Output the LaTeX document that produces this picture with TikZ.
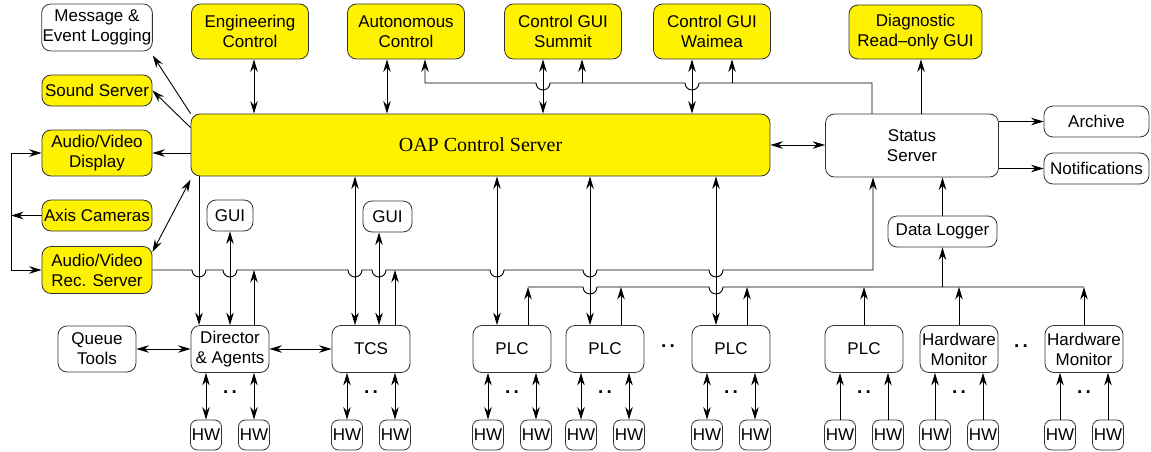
\documentclass[tikz,border=0pt]{standalone}
\usepackage{fontspec}
\setmainfont{Liberation Sans}
\newfontfamily\oapfont{Liberation Serif}
\usepackage{xcolor}
\usepackage{tikz}
\usetikzlibrary{arrows.meta}
\tikzset{
box/.style={
  draw=black!80,
  line width=0.8pt,
  rounded corners=9pt,
  align=center,
  inner sep=1pt,
  font=\fontsize{17}{20}\selectfont
},
ybox/.style={box,fill=yellow},
wh/.style 2 args={minimum width=#1pt,minimum height=#2pt},
hw/.style={box,rounded corners=7pt,wh={31}{30}},
dev/.style={box,wh={78}{47}},
dots/.style={inner sep=0pt,font=\bfseries\fontsize{19}{20}\selectfont},
link/.style={line width=0.9pt},
>={Stealth[length=12.5pt,width=7.5pt]}
}

\begin{document}
\begin{tikzpicture}[x=1pt,y=-1pt]
\useasboundingbox (0,0) rectangle (1151,452);
% the boxes
\node[box,wh={110}{47}] (log) at (97,27.5) {Message \&\\Event Logging};
\node[ybox,wh={110}{31}] (snd) at (97,90.5) {Sound Server};
\node[ybox,wh={110}{46}] (avd) at (97,153) {Audio/Video\\Display};
\node[ybox,wh={110}{31}] (axis) at (97,215.5) {Axis Cameras};
\node[ybox,wh={110}{47}] (rec) at (97,270) {Audio/Video\\Rec. Server};
\node[ybox,wh={117}{55}] (eng) at (250,31.5) {Engineering\\Control};
\node[ybox,wh={117}{55}] (aut) at (406,31.5) {Autonomous\\Control};
\node[ybox,wh={117}{55}] (sum) at (563,31.5) {Control GUI\\Summit};
\node[ybox,wh={117}{55}] (wai) at (712,31.5) {Control GUI\\Waimea};
\node[ybox,wh={133}{54}] (diag) at (915.5,32) {Diagnostic\\Read--only GUI};
\node[ybox,wh={579}{62},font=\oapfont\fontsize{20}{24}\selectfont] (oap) at (480.5,145) {OAP Control Server};
\node[box,wh={173}{63}] (st) at (912,145.5) {Status\\Server};
\node[box,wh={105}{31}] (arch) at (1096.5,121.5) {Archive};
\node[box,wh={105}{31}] (notif) at (1096.5,168.5) {Notifications};
\node[box,wh={46}{31}] (guia) at (230,215.5) {GUI};
\node[box,wh={49}{31}] (guib) at (387.5,216.5) {GUI};
\node[box,wh={109}{31}] (dlog) at (942.5,231.5) {Data Logger};
\node[box,wh={78}{46}] (queue) at (97,349) {Queue\\Tools};
\node[dev] (dir) at (230,349) {Director\\\& Agents};
\node[dev] (tcs) at (371,349) {TCS};
\node[dev] (plca) at (512,349) {PLC};
\node[dev] (plcb) at (605,349) {PLC};
\node[dev] (plcc) at (731,349) {PLC};
\node[dev] (plcd) at (864,349) {PLC};
\node[dev] (hwma) at (959,349) {Hardware\\Monitor};
\node[dev] (hwmb) at (1084,349) {Hardware\\Monitor};
\node[dots] (dotsa) at (668,346) {.\,.};
\node[dots] (dotsb) at (1021,346) {.\,.};
\coordinate (top) at (0,83);
\coordinate (bus1) at (0,270);
\coordinate (bus2) at (0,287);
\coordinate (lbus) at (11,0);
\coordinate (hwrow) at (0,435);
\coordinate (dotrow) at (0,392);

% the hardware under each device
\foreach \p in {dir,tcs,plca,plcb,plcc,plcd,hwma,hwmb}
{
  \node[hw] (\p-l) at ([xshift=-24pt]\p.south |- hwrow) {HW};
  \node[hw] (\p-r) at ([xshift=24pt]\p.south |- hwrow) {HW};
  \node[dots] (\p-dots) at (\p.south |- dotrow) {.\,.};
}
\foreach \p in {dir,tcs,plca,plcb,plcc}
{
  \draw[link,<->] (\p-l.north) -- (\p-l.north |- \p.south);
  \draw[link,<->] (\p-r.north) -- (\p-r.north |- \p.south);
}
\foreach \p in {plcd,hwma,hwmb}
{
  \draw[link,->] (\p-l.north) -- (\p-l.north |- \p.south);
  \draw[link,->] (\p-r.north) -- (\p-r.north |- \p.south);
}

% the arrows on the left
\draw[link,->] (oap.north west) -- ([yshift=-4pt]log.south east);
\draw[link,->] ([yshift=-14pt]oap.north west) -- (snd.east);
\draw[link,->] (avd.east -| oap.west) -- (avd.east);
\draw[link,<->] ([yshift=-6pt]rec.north east) -- ([yshift=-3pt]oap.south west);
\draw[link,->] (axis.west) -- (axis.west -| lbus);
\draw[link,->] (avd.west -| lbus) -- (avd.west);
\draw[link,->] (avd.west -| lbus) |- (rec.west);

% the arrows on top
\draw[link,<->] ([xshift=4pt]eng.south) -- ([xshift=4pt]eng.south |- oap.north);
\draw[link,<->] ([xshift=-19pt]aut.south) -- ([xshift=-19pt]aut.south |- oap.north);
\draw[link,<->] ([xshift=-20pt]sum.south) -- ([xshift=-20pt]sum.south |- oap.north);
\draw[link,<->] ([xshift=-20pt]wai.south) -- ([xshift=-20pt]wai.south |- oap.north);
\draw[link,->] ([xshift=-40pt]st.north) -- ([xshift=-40pt]st.north |- top)
  \foreach \x in {692,543} { -- (\x+7,83) arc (0:180:7) }
  -- ([xshift=19pt]aut.south |- top) -- ([xshift=19pt]aut.south);
\draw[link,->] ([xshift=19pt]sum.south |- top) -- ([xshift=19pt]sum.south);
\draw[link,->] ([xshift=20pt]wai.south |- top) -- ([xshift=20pt]wai.south);

% the status server
\draw[link,<->] (oap.east) -- (oap.east -| st.west);
\draw[link,->] ([xshift=9pt]st.north) -- ([xshift=9pt]st.north |- diag.south);
\draw[link,->] (arch.west -| st.east) -- (arch.west);
\draw[link,->] (notif.west -| st.east) -- (notif.west);
\draw[link,->] (dlog.north) -- (dlog.north |- st.south);

% the devices
\draw[link,<->] (queue.east) -- (dir.west);
\draw[link,<->] (dir.east) -- (tcs.west);
\draw[link,->] ([xshift=-31pt]dir.north |- oap.south) -- ([xshift=-31pt]dir.north);
\draw[link,<->] (guia.south) -- (guia.south |- dir.north);
\draw[link,->] ([xshift=24pt]dir.north) -- ([xshift=24pt]dir.north |- bus1);
\draw[link,<->] ([xshift=-16pt]tcs.north |- oap.south) -- ([xshift=-16pt]tcs.north);
\draw[link,<->] ([xshift=8pt]tcs.north |- guib.south) -- ([xshift=8pt]tcs.north);
\draw[link,->] ([xshift=24pt]tcs.north) -- ([xshift=24pt]tcs.north |- bus1);
\foreach \p in {plca,plcb,plcc}
{
  \draw[link,<->] ([xshift=-15pt]\p.north |- oap.south) -- ([xshift=-15pt]\p.north);
  \draw[link,->] ([xshift=16pt]\p.north) -- ([xshift=16pt]\p.north |- bus2);
}
\foreach \p in {plcd,hwma,hwmb}
{
  \draw[link,->] (\p.north) -- (\p.north |- bus2);
}

% the two buses
\draw[link,->] (rec.east)
  \foreach \x in {199,230,355,379,497,590,716} { -- (\x-7,270) arc (180:0:7) }
  -- ([xshift=-39pt]st.south |- bus1) -- ([xshift=-39pt]st.south);
\draw[link] ([xshift=16pt]plca.north |- bus2)
  \foreach \x in {590,716} { -- (\x-7,287) arc (180:0:7) }
  -- (hwmb.north |- bus2);
\draw[link,->] (dlog.south |- bus2) -- (dlog.south);

\end{tikzpicture}
\end{document}
